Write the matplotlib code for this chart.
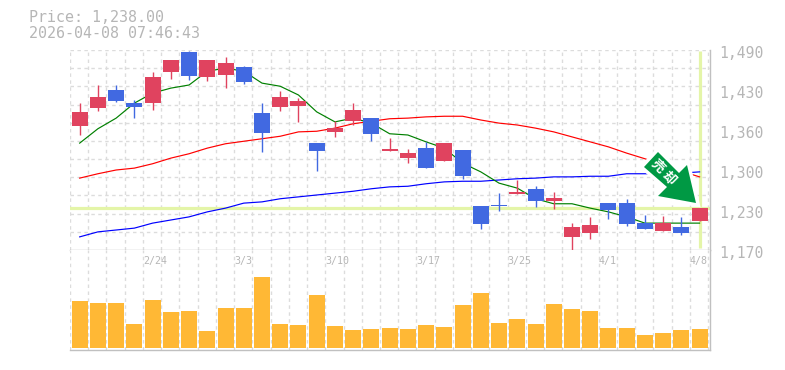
import matplotlib
matplotlib.use('Agg')
import matplotlib.pyplot as plt
from matplotlib.patches import Polygon

# daily candles, prices
opens = [1368, 1397, 1426, 1405, 1405, 1455, 1487, 1447, 1450, 1463, 1389, 1399, 1400, 1341, 1359, 1376, 1381, 1328,
         1317, 1333, 1312, 1330, 1240, 1242, 1260, 1268, 1248, 1191, 1197, 1245, 1245, 1213, 1200, 1207, 1216]
closes = [1391, 1415, 1408, 1399, 1447, 1474, 1448, 1474, 1469, 1439, 1357, 1415, 1408, 1328, 1365, 1394, 1356, 1332,
          1325, 1301, 1341, 1288, 1212, 1240, 1263, 1248, 1253, 1207, 1210, 1234, 1212, 1204, 1213, 1197, 1238]
highs = [1405, 1434, 1434, 1410, 1455, 1474, 1488, 1474, 1479, 1464, 1405, 1424, 1413, 1341, 1376, 1405, 1381, 1349,
         1332, 1343, 1341, 1330, 1240, 1261, 1282, 1272, 1263, 1213, 1223, 1245, 1252, 1226, 1224, 1223, 1238]
lows = [1354, 1392, 1407, 1381, 1394, 1444, 1442, 1440, 1429, 1436, 1327, 1392, 1375, 1296, 1351, 1370, 1344, 1328,
        1309, 1301, 1312, 1284, 1204, 1232, 1260, 1239, 1236, 1170, 1188, 1220, 1208, 1204, 1200, 1194, 1216]
ma_short = [1341, 1364, 1381, 1405, 1421, 1429, 1434, 1456, 1461, 1456, 1437, 1432, 1418, 1391, 1375, 1381, 1373, 1356,
            1354, 1343, 1333, 1309, 1295, 1277, 1269, 1252, 1244, 1244, 1237, 1231, 1223, 1213, 1213, 1213, 1213]
ma_mid = [1285, 1292, 1298, 1301, 1308, 1317, 1324, 1333, 1340, 1344, 1348, 1352, 1359, 1360, 1365, 1372, 1376, 1380,
          1381, 1383, 1384, 1384, 1378, 1373, 1370, 1365, 1359, 1351, 1343, 1335, 1325, 1316, 1306, 1296, 1287]
ma_long = [1191, 1199, 1202, 1205, 1213, 1218, 1223, 1231, 1237, 1245, 1247, 1252, 1255, 1258, 1261, 1264, 1268, 1271,
           1272, 1276, 1279, 1280, 1280, 1282, 1284, 1285, 1287, 1287, 1288, 1288, 1292, 1292, 1292, 1293, 1295]
volume = [46.7, 44.7, 44.7, 23.7, 47.7, 35.7, 36.7, 16.7, 39.7, 39.7, 71, 23.7, 22.7, 52.7, 21.7, 17.7, 18.7, 19.7,
          19, 23, 21, 43, 55, 25, 29, 24, 44, 39, 37, 20, 20, 13, 15, 18, 19]
date_labels = ['2/24', '3/3', '3/10', '3/17', '3/25', '4/1', '4/8']
date_idx = [4, 9, 14, 19, 24, 29, 34]
price_labels = ['1,490', '1,430', '1,360', '1,300', '1,230', '1,170']
last_price = 1238

RED = '#e0435f'
BLUE = '#4169e1'
GRID = '#dcdcdc'
AXIS = '#c0c0c0'
HILITE = '#e4f5a8'
TEXT = '#b6b6b6'
W, H = 785, 370

plt.rcParams['font.family'] = 'DejaVu Sans Mono'
fig = plt.figure(figsize=(W / 100, H / 100), dpi=100)
ax = fig.add_axes([70 / W, 1 - 250 / H, 640 / W, 200 / H])
vol = fig.add_axes([70 / W, 1 - 350 / H, 640 / W, 100 / H])

xlim = (-0.53, 34.57)
edges = [i - 0.53 for i in range(36)]
days = range(len(opens))

for a in (ax, vol):
    a.set_xlim(xlim)
    a.set_xticks([])
    a.set_yticks([])
    for e in edges:
        a.axvline(e, color=GRID, lw=1, ls=(0, (2.5, 2.5)), zorder=0)
    for s in ('top', 'left'):
        a.spines[s].set_visible(False)
    for s in ('bottom', 'right'):
        a.spines[s].set_color(AXIS)
        a.spines[s].set_linewidth(1)

ax.set_ylim(1170, 1490)
for i in range(11):
    ax.axhline(1490 - i * 320 / 11, color=GRID, lw=1, ls=(0, (2.5, 2.5)), zorder=0)

ax.axhline(last_price, color=HILITE, lw=2.3, zorder=1)
ax.plot([34, 34], [1173, 1488], color=HILITE, lw=2.3, zorder=1, solid_capstyle='butt')

ax.plot(days, ma_long, color='#0000ff', lw=0.85, zorder=2)
ax.plot(days, ma_mid, color='#ff0000', lw=0.85, zorder=2)
ax.plot(days, ma_short, color='#008000', lw=0.85, zorder=2)

for i in days:
    c = RED if closes[i] >= opens[i] else BLUE
    ax.plot([i, i], [lows[i], highs[i]], color=c, lw=1, zorder=3, solid_capstyle='butt', clip_on=False)
    ax.bar(i, abs(closes[i] - opens[i]), bottom=min(opens[i], closes[i]), width=16 / 18.235, color=c, zorder=4)

vol.set_ylim(-2.3, 97.7)
vol.bar(days, volume, width=16 / 18.235, color='#ffb835', zorder=2)

for i, lab in zip(date_idx, date_labels):
    vol.text(i - 0.53, 0.89, lab, color=TEXT, fontsize=7.2, ha='left', va='center',
             transform=vol.get_xaxis_transform())

# price labels are evenly spaced and sit a little below the gridlines
for i, lab in enumerate(price_labels):
    fig.text(719 / W, 1 - (53 + 40 * i) / H, lab, color=TEXT, fontsize=10.6, ha='left', va='center')

fig.text(29 / W, 1 - 18 / H, 'Price: 1,238.00', color=TEXT, fontsize=10.8, ha='left', va='center')
fig.text(29 / W, 1 - 33 / H, '2026-04-08 07:46:43', color=TEXT, fontsize=10.8, ha='left', va='center')

# sell signal arrow, in figure pixels; white halo under the green fill
arrow_px = [(658, 152), (644, 167), (667, 187), (658, 196), (696, 203), (687, 165), (679, 173)]
arrow_xy = [(x / W, 1 - y / H) for x, y in arrow_px]
fig.add_artist(Polygon(arrow_xy, closed=True, transform=fig.transFigure, facecolor='white', edgecolor='white',
                       lw=5, joinstyle='miter', zorder=6))
fig.add_artist(Polygon(arrow_xy, closed=True, transform=fig.transFigure, facecolor='#009944', edgecolor='none',
                       zorder=6.5))
fig.text(658 / W, 1 - 166 / H, '売', color='white', fontsize=9.5, fontweight='bold', rotation=-45,
         ha='center', va='center', family='Noto Sans CJK JP', zorder=7)
fig.text(669 / W, 1 - 178 / H, '却', color='white', fontsize=9.5, fontweight='bold', rotation=-45,
         ha='center', va='center', family='Noto Sans CJK JP', zorder=7)

fig.savefig('out.png', dpi=100)
